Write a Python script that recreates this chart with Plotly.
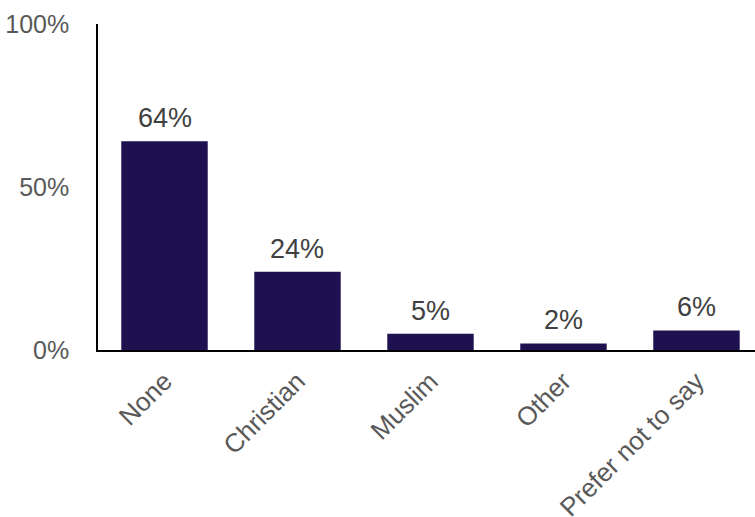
import plotly.graph_objects as go

categories = ["None", "Christian", "Muslim", "Other", "Prefer not to say"]
shares = [0.64, 0.24, 0.05, 0.02, 0.06]
y_ticks = [0, 0.5, 1.0]
y_tick_labels = ["0%", "50%", "100%"]

BAR_COLOR = "#1f1150"
FONT = "Liberation Sans, Arial, sans-serif"

fig = go.Figure(
    go.Bar(
        x=categories,
        y=shares,
        marker=dict(color=BAR_COLOR, line=dict(width=0)),
        width=0.65,
        hoverinfo="skip",
    )
)

# value labels sitting above each bar
for cat, val in zip(categories, shares):
    fig.add_annotation(
        x=cat, y=val, text=f"{round(val * 100)}%",
        showarrow=False, yanchor="bottom", yshift=6,
        font=dict(family=FONT, size=27, color="#404040"),
    )

fig.update_layout(
    width=755, height=517,
    margin=dict(l=98, r=0, t=24, b=167, autoexpand=False),
    paper_bgcolor="white", plot_bgcolor="white",
    showlegend=False,
    font=dict(family=FONT, color="#595959"),
)

fig.update_xaxes(
    range=[-0.5, 4.44],
    showline=True, linecolor="#000000", linewidth=1.5,
    showgrid=False, zeroline=False, ticks="",
    tickangle=-45, automargin=False,
    ticklabelstandoff=4,
    tickfont=dict(family=FONT, size=26, color="#595959"),
)

fig.update_yaxes(
    range=[0, 1],
    tickvals=y_ticks, ticktext=y_tick_labels,
    showline=True, linecolor="#000000", linewidth=1.5,
    showgrid=False, zeroline=False, ticks="",
    ticklabelstandoff=22, automargin=False,
    tickfont=dict(family=FONT, size=25, color="#595959"),
)

fig.write_html("out.html")
